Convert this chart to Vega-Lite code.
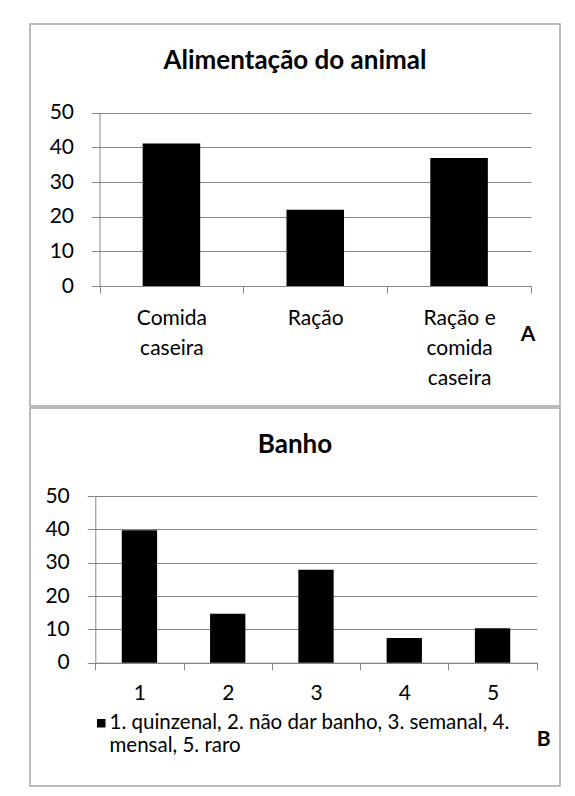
{
  "$schema": "https://vega.github.io/schema/vega-lite/v6.json",
  "background": "white",
  "padding": {"left": 29, "top": 23, "right": 0, "bottom": 0},
  "spacing": 0,
  "resolve": {"scale": {"color": "independent"}, "legend": {"color": "independent"}},
  "config": {
    "view": {"stroke": "#a6a6a6", "strokeWidth": 1.5},
    "font": "Lato",
    "axis": {
      "title": null,
      "labelFont": "Lato",
      "labelFontSize": 21,
      "labelColor": "#000000",
      "domainColor": "#868686",
      "tickColor": "#868686",
      "gridColor": "#868686",
      "domainWidth": 1,
      "tickWidth": 1,
      "gridWidth": 1
    },
    "title": {"font": "Lato", "fontSize": 26, "fontWeight": "bold", "color": "#000000", "anchor": "middle", "frame": "group", "offset": -50, "baseline": "alphabetic"}
  },
  "vconcat": [
    {
      "width": 530,
      "height": 382,
      "title": "Alimentação do animal",
      "layer": [
        {
          "data": {"values": [
            {"alimentacao": "Comida caseira", "percentual": 41.1},
            {"alimentacao": "Ração", "percentual": 22.0},
            {"alimentacao": "Ração e comida caseira", "percentual": 36.9}
          ]},
          "mark": {"type": "bar", "color": "#000000", "width": {"band": 0.4}},
          "encoding": {
            "x": {
              "field": "alimentacao", "type": "nominal", "sort": null,
              "scale": {"range": [69.5, 501], "paddingInner": 0, "paddingOuter": 0},
              "axis": {
                "orient": "bottom", "offset": -120, "tickSize": 7, "tickBand": "extent",
                "labelAngle": 0, "labelPadding": 14, "labelLineHeight": 30, "labelLimit": 0,
                "labelExpr": "datum.label == 'Ração e comida caseira' ? ['Ração e', 'comida', 'caseira'] : split(datum.label, ' ')"
              }
            },
            "y": {
              "field": "percentual", "type": "quantitative",
              "scale": {"domain": [0, 50], "range": [262, 88.7], "nice": false},
              "axis": {"offset": -69.5, "values": [0, 10, 20, 30, 40, 50], "tickSize": 8, "labelPadding": 18, "grid": true}
            }
          }
        },
        {
          "data": {"values": [{"painel": "A"}]},
          "mark": {"type": "text", "font": "Lato", "fontSize": 21, "fontWeight": "bold", "baseline": "alphabetic", "align": "center", "dx": -3, "color": "#000000"},
          "encoding": {
            "text": {"field": "painel"},
            "x": {"datum": "Ração e comida caseira", "bandPosition": 1},
            "y": {"datum": -16}
          }
        }
      ]
    },
    {
      "width": 530,
      "height": 378,
      "title": "Banho",
      "layer": [
        {
          "data": {"values": [
            {"banho": "1", "percentual": 39.7, "legenda": "1. quinzenal, 2. não dar banho, 3. semanal, 4. mensal, 5. raro"},
            {"banho": "2", "percentual": 14.7, "legenda": "1. quinzenal, 2. não dar banho, 3. semanal, 4. mensal, 5. raro"},
            {"banho": "3", "percentual": 27.9, "legenda": "1. quinzenal, 2. não dar banho, 3. semanal, 4. mensal, 5. raro"},
            {"banho": "4", "percentual": 7.4, "legenda": "1. quinzenal, 2. não dar banho, 3. semanal, 4. mensal, 5. raro"},
            {"banho": "5", "percentual": 10.3, "legenda": "1. quinzenal, 2. não dar banho, 3. semanal, 4. mensal, 5. raro"}
          ]},
          "mark": {"type": "bar", "width": {"band": 0.4}},
          "encoding": {
            "x": {
              "field": "banho", "type": "nominal", "sort": null,
              "scale": {"range": [65.3, 506.7], "paddingInner": 0, "paddingOuter": 0},
              "axis": {"orient": "bottom", "offset": -123.3, "tickSize": 7, "tickBand": "extent", "labelAngle": 0, "labelPadding": 13}
            },
            "y": {
              "field": "percentual", "type": "quantitative",
              "scale": {"domain": [0, 50], "range": [254.7, 88], "nice": false},
              "axis": {"offset": -65.3, "values": [0, 10, 20, 30, 40, 50], "tickSize": 8, "labelPadding": 18, "grid": true}
            },
            "color": {
              "field": "legenda", "type": "nominal",
              "scale": {"range": ["#000000"]},
              "legend": {
                "orient": "none", "legendX": 61, "legendY": 305, "title": null,
                "symbolType": "square", "symbolSize": 72, "symbolStrokeWidth": 0,
                "labelFont": "Lato", "labelFontSize": 20.5, "labelColor": "#000000", "labelLimit": 1000, "labelOffset": -2, "labelLineHeight": 27,
                "labelExpr": "[substring(datum.label, 0, indexof(datum.label, 'mensal') - 1), substring(datum.label, indexof(datum.label, 'mensal'))]"
              }
            }
          }
        },
        {
          "data": {"values": [{"painel": "B"}]},
          "mark": {"type": "text", "font": "Lato", "fontSize": 21, "fontWeight": "bold", "baseline": "alphabetic", "align": "center", "dx": 7, "color": "#000000"},
          "encoding": {
            "text": {"field": "painel"},
            "x": {"datum": "5", "bandPosition": 1},
            "y": {"datum": -25}
          }
        }
      ]
    }
  ]
}
